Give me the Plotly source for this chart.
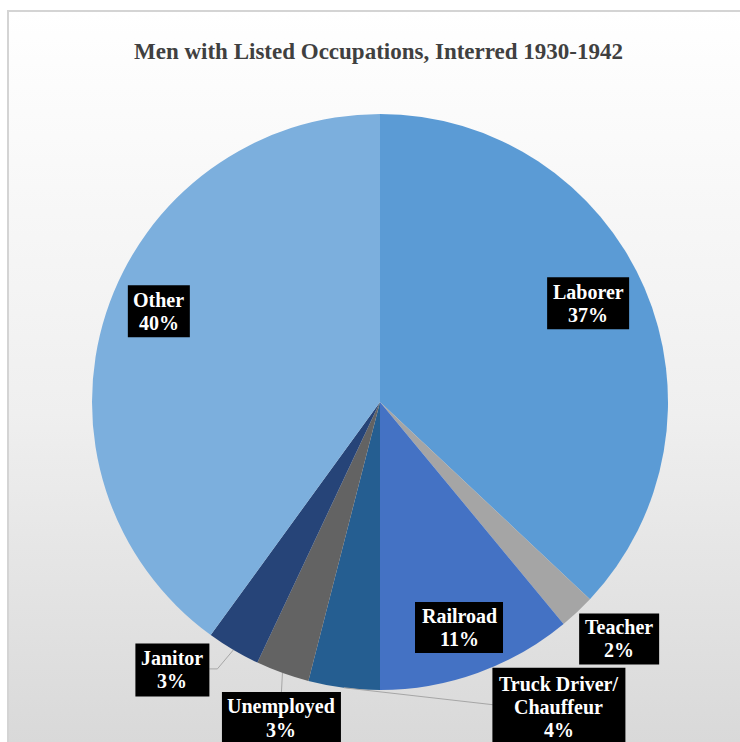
import math
import plotly.graph_objects as go

# Occupation shares (percent), clockwise from 12 o'clock
occupations = ["Laborer", "Teacher", "Railroad", "Truck Driver/Chauffeur",
               "Unemployed", "Janitor", "Other"]
label_lines = [["Laborer"], ["Teacher"], ["Railroad"], ["Truck Driver/", "Chauffeur"],
               ["Unemployed"], ["Janitor"], ["Other"]]
shares = [37, 2, 11, 4, 3, 3, 40]
colors = ["#5B9BD5", "#A5A5A5", "#4472C4", "#255E91", "#636363", "#264478", "#7CAFDD"]

TITLE = "Men with Listed Occupations, Interred 1930-1942"
W, H = 740, 742
CX, CY, R = 380, 402, 288          # pie centre / radius in pixels
FRAME_L, FRAME_T = 8, 11           # chart-area frame
LINE_GAP = 23                      # label line spacing, px

SERIF = "Liberation Serif, Times New Roman, serif"


def px(x, y):
    """pixel -> paper coordinates"""
    return x / W, 1 - y / H


def mid_angle(i):
    total = sum(shares)
    start = sum(shares[:i]) / total * 360
    return start + shares[i] / total * 180


def polar(angle, r):
    a = math.radians(angle)
    return CX + r * math.sin(a), CY - r * math.cos(a)


fig = go.Figure()

# background gradient of the chart area
fig.add_trace(go.Scatter(
    x=[0, 1, 1, 0, 0], y=[0, 0, 1, 1, 0], mode="lines",
    line=dict(width=0), fill="toself",
    fillgradient=dict(type="vertical",
                      colorscale=[[0, "#d9d9d9"], [0.45, "#efefef"], [1, "#ffffff"]]),
    hoverinfo="skip", showlegend=False, xaxis="x", yaxis="y",
))

x0, y1 = px(CX - R, CY - R)
x1, y0 = px(CX + R, CY + R)
fig.add_trace(go.Pie(
    labels=occupations, values=shares, sort=False, direction="clockwise",
    rotation=0, marker=dict(colors=colors, line=dict(width=0)),
    textinfo="none", hoverinfo="label+percent", showlegend=False,
    domain=dict(x=[x0, x1], y=[y0, y1]),
))

annotations = []
shapes = []


def box(i, cx, cy, w, h):
    """black label box centred at (cx, cy) px holding name lines + percentage"""
    bx0, by0 = px(cx - w / 2, cy + h / 2)
    bx1, by1 = px(cx + w / 2, cy - h / 2)
    shapes.append(dict(type="rect", xref="paper", yref="paper",
                       x0=bx0, y0=by0, x1=bx1, y1=by1,
                       fillcolor="black", line=dict(width=0), layer="above"))
    lines = label_lines[i] + [f"{shares[i]}%"]
    top = cy - (len(lines) - 1) * LINE_GAP / 2
    for k, t in enumerate(lines):
        xx, yy = px(cx, top + k * LINE_GAP)
        annotations.append(dict(
            x=xx, y=yy, xref="paper", yref="paper", xanchor="center", yanchor="middle",
            text=f"<b>{t}</b>", showarrow=False,
            font=dict(family=SERIF, size=20, color="white"),
        ))


def leader(points):
    path = " ".join(("M" if k == 0 else "L") + f" {px(*p)[0]:.5f},{px(*p)[1]:.5f}"
                    for k, p in enumerate(points))
    shapes.append(dict(type="path", path=path, xref="paper", yref="paper",
                       line=dict(color="#a6a6a6", width=1)))


# labels inside the large slices: (radius fraction, angle nudge, box w, box h)
inside = {0: (0.80, -2.0, 82, 52), 2: (0.83, 0.5, 88, 51), 6: (0.83, 4.3, 62, 52)}
for i, (rf, da, w, h) in inside.items():
    lx, ly = polar(mid_angle(i) + da, rf * R)
    box(i, lx, ly, w, h)

# Teacher: just outside its slice
ex, ey = polar(mid_angle(1), R)
box(1, ex + 42, ey + 27, 80, 51)

# Truck Driver/Chauffeur
ex, ey = polar(mid_angle(3), R)
leader([(ex, ey), (ex + 149, ey + 17)])
box(3, ex + 149 + 66, ey + 19, 133, 78)

# Unemployed
ex, ey = polar(mid_angle(4), R)
leader([(ex, ey), (ex - 1, ey + 19)])
box(4, ex - 1, ey + 19 + 26.5, 119, 53)

# Janitor
ex, ey = polar(mid_angle(5), R)
leader([(ex, ey), (ex - 16, ey + 19), (ex - 24, ey + 19)])
box(5, ex - 24 - 37, ey + 20, 74, 53)

# title
tx, ty = px(378, 51)
annotations.append(dict(
    x=tx, y=ty, xref="paper", yref="paper", xanchor="center", yanchor="middle",
    text=f"<b>{TITLE}</b>", showarrow=False,
    font=dict(family=SERIF, size=23, color="#404040"),
))

# chart-area frame
fl, ft = px(FRAME_L, FRAME_T)
shapes.append(dict(type="rect", xref="paper", yref="paper", x0=fl, y0=-0.01, x1=1.01, y1=ft,
                   line=dict(color="#d4d4d4", width=2), layer="above"))

fig.update_layout(
    width=W, height=H, margin=dict(l=0, r=0, t=0, b=0),
    paper_bgcolor="white", plot_bgcolor="rgba(0,0,0,0)",
    xaxis=dict(domain=[fl, 1], range=[0, 1], visible=False, fixedrange=True),
    yaxis=dict(domain=[0, ft], range=[0, 1], visible=False, fixedrange=True),
    annotations=annotations, shapes=shapes,
)

fig.write_html("out.html")
